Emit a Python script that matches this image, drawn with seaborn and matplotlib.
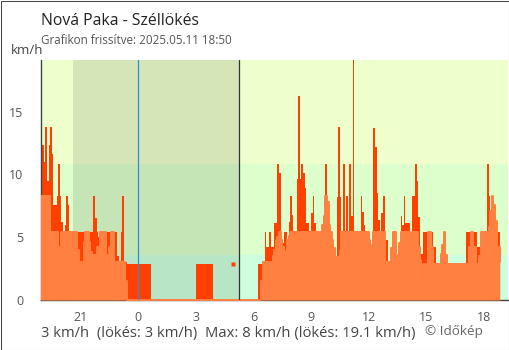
import numpy as np
import pandas as pd
import matplotlib
matplotlib.use("Agg")
import matplotlib.pyplot as plt
import seaborn as sns
from matplotlib.patches import Rectangle

# 5-minute samples, starting at 18:50 on the previous evening (one row = one hour)
start_hour = -5 - 10 / 60
step_minutes = 5
nan = np.nan

gust_kmh = [
    13.8, 13.8, 12.3, 11.0, 13.8, 9.5, 12.3, 13.8, 11.6, 7.6, 7.6, 8.3,
    10.8, 8.3, 6.2, 5.4, 6.0, 8.3, 7.6, 5.4, 5.4, 5.4, 5.4, 5.4,
    5.4, 5.4, 5.4, 5.4, 4.6, 5.4, 5.4, 5.4, 5.4, 5.4, 8.3, 6.5,
    5.4, 5.0, 5.4, 5.4, 5.4, 5.4, 5.4, 5.4, 5.4, 5.4, 5.4, 5.4,
    5.4, 3.5, 3.0, 5.4, 8.3, 3.0, 3.0, 2.9, 2.9, 2.9, 2.9, 2.9,
    2.9, 2.9, 2.9, 2.9, 2.9, 2.9, 2.9, 2.9, 2.9, 2.9, 2.9, nan,
    nan, nan, nan, nan, nan, nan, nan, nan, nan, nan, nan, nan,
    nan, nan, nan, nan, nan, nan, nan, nan, nan, nan, nan, nan,
    nan, nan, 2.9, 2.9, 2.9, 2.9, 2.9, 2.9, 2.9, 2.9, 2.9, 2.9,
    2.9, 2.9, nan, nan, nan, nan, nan, nan, nan, nan, nan, nan,
    nan, 2.9, nan, nan, nan, nan, nan, nan, nan, nan, nan, nan,
    nan, nan, nan, nan, nan, 2.9, 2.9, 2.9, 3.0, 5.4, 4.2, 4.2,
    5.4, 4.2, 4.2, 6.1, 6.1, 10.8, 10.1, 5.4, 4.5, 5.4, 5.4, 4.8,
    6.2, 8.3, 6.8, 5.4, 5.4, 9.6, 16.2, 9.6, 10.8, 10.1, 8.9, 6.1,
    6.1, 5.4, 6.9, 8.3, 6.1, 5.4, 5.4, 5.4, 5.4, 6.0, 6.7, 10.8,
    7.8, 6.0, 5.4, 4.8, 4.1, 3.4, 8.2, 13.8, 8.2, 5.4, 10.8, 5.4,
    8.3, 5.4, 10.8, 6.7, 19.1, 5.4, 5.4, 5.4, 5.4, 8.3, 7.0, 6.0,
    5.4, 5.4, 4.8, 3.4, 4.4, 13.7, 12.2, 8.5, 6.4, 5.4, 6.9, 8.3,
    4.8, 4.8, 3.0, 3.0, 4.1, 5.4, 5.4, 3.6, 3.5, 4.5, 6.7, 6.0,
    8.3, 6.1, 6.1, 6.1, 5.4, 8.3, 8.3, 10.8, 9.5, 6.6, 4.2, 3.7,
    5.4, 5.4, 5.4, 5.4, 5.4, 5.4, 4.2, 4.2, 2.9, 2.9, 2.9, 3.7,
    4.4, 5.4, 3.6, 2.9, 2.9, 2.9, 2.9, 2.9, 2.9, 2.9, 2.9, 2.9,
    2.9, 2.9, 2.9, 5.4, 5.4, 5.4, 5.4, 5.4, 5.4, 5.4, 4.2, 4.2,
    5.4, 5.4, 5.4, 5.4, 10.8, 8.3, 7.1, 8.3, 7.6, 6.3, 5.4, 5.4,
    3.0,
]

wind_kmh = [
    8.3, 8.3, 8.3, 8.3, 8.3, 8.3, 8.3, 5.4, 5.4, 5.4, 5.4, 5.4,
    4.2, 4.2, 5.4, 5.4, 5.4, 5.4, 5.4, 5.4, 5.4, 5.4, 5.4, 5.4,
    4.0, 3.0, 3.0, 3.0, 4.6, 5.4, 5.4, 4.6, 3.8, 3.2, 3.6, 3.6,
    4.2, 4.2, 5.4, 5.4, 5.4, 5.4, 3.6, 3.0, 4.2, 5.4, 5.4, 3.0,
    3.0, 3.0, 3.0, 3.0, 3.0, 3.0, 1.5, 0, 0, 0, 0, 0,
    0, 0, 0, 0, 0, 0, 0, 0, 0, 0, 0, 0,
    0, 0, 0, 0, 0, 0, 0, 0, 0, 0, 0, 0,
    0, 0, 0, 0, 0, 0, 0, 0, 0, 0, 0, 0,
    0, 0, 0, 0, 0, 0, 0, 0, 0, 0, 0, 0,
    0, 0, 0, 0, 0, 0, 0, 0, 0, 0, 0, 0,
    0, 0, 0, 0, 0, 0, 0, 0, 0, 0, 0, 0,
    0, 0, 0, 0, 0, 0, 0, 1.5, 3.0, 3.0, 3.0, 3.0,
    3.0, 3.0, 3.5, 4.0, 4.8, 5.0, 5.4, 4.8, 4.2, 3.9, 3.2, 4.8,
    5.1, 5.4, 3.4, 5.4, 5.4, 3.3, 5.4, 5.4, 5.4, 5.4, 5.4, 5.4,
    5.4, 5.4, 5.4, 5.4, 5.4, 5.4, 5.4, 5.4, 5.4, 6.0, 6.7, 8.3,
    7.8, 6.0, 5.4, 4.8, 4.1, 3.4, 3.4, 3.4, 4.0, 5.4, 5.4, 3.9,
    5.4, 5.4, 5.4, 5.4, 5.4, 5.4, 5.4, 5.4, 5.4, 5.4, 5.4, 5.4,
    5.4, 5.4, 4.8, 3.4, 4.4, 5.4, 5.4, 5.4, 5.4, 5.4, 5.4, 5.4,
    3.0, 3.0, 3.0, 3.0, 4.1, 5.4, 5.4, 3.6, 3.5, 4.5, 5.4, 5.4,
    3.4, 5.4, 5.4, 5.4, 4.8, 5.4, 5.4, 5.4, 5.4, 4.2, 3.2, 1.5,
    2.9, 2.9, 2.9, 5.4, 5.4, 4.2, 2.9, 2.9, 2.9, 2.9, 2.9, 3.7,
    4.4, 5.4, 3.6, 2.9, 2.9, 2.9, 2.9, 2.9, 2.9, 2.9, 2.9, 2.9,
    2.9, 2.9, 2.9, 2.9, 2.9, 4.2, 5.4, 4.2, 4.2, 2.9, 2.9, 3.5,
    5.4, 5.4, 5.4, 5.4, 5.4, 5.8, 7.1, 8.3, 7.6, 6.3, 4.2, 4.2,
    3.0,
]

tick_hours = [-3, 0, 3, 6, 9, 12, 15, 18]
tick_labels = ["21", "0", "3", "6", "9", "12", "15", "18"]
y_ticks = [0, 5, 10, 15]

sunset_hour = -3.4
sunrise_hour = 5.27
band_edges = [0, 3.6, 10.8]
band_colors = ["#ccffdd", "#ddffcc", "#eeffcc"]

title = "Nová Paka - Széllökés"
subtitle = "Grafikon frissítve: 2025.05.11 18:50"
unit_label = "km/h"
footer = "3 km/h  (lökés: 3 km/h)  Max: 8 km/h (lökés: 19.1 km/h)"
credit = "© Időkép"

GUST_COLOR = "#ff4000"
WIND_COLOR = "#ff8040"
AXIS_COLOR = "#444444"

hours = start_hour + np.arange(len(gust_kmh)) * step_minutes / 60
df = pd.DataFrame({"hour": hours, "gust": gust_kmh, "wind": wind_kmh})

sns.set_style("white")
plt.rcParams["font.family"] = ["Open Sans", "DejaVu Sans"]

W, H = 510, 350
fig = plt.figure(figsize=(W / 100, H / 100), dpi=100)
left, right, top, bottom = 40.7, 508, 60, 300
ax = fig.add_axes([left / W, 1 - bottom / H, (right - left) / W, (bottom - top) / H])

x_min, x_max = -5.08, 19.26
y_max = np.nanmax(df["gust"])
ax.set_xlim(x_min, x_max)
ax.set_ylim(0, y_max)

# wind-strength background bands and the night shading
band_tops = band_edges[1:] + [y_max]
for lo, hi, col in zip(band_edges, band_tops, band_colors):
    ax.axhspan(lo, hi, color=col, lw=0, zorder=0)
ax.axvspan(sunset_hour, sunrise_hour, color="black", alpha=0.1, lw=0, zorder=0.5)

# gusts: filled steps, broken where no measurement exists
ax.fill_between(df["hour"], df["gust"], step="post", color=GUST_COLOR, lw=0,
                zorder=2, antialiased=False)
g = df["gust"].to_numpy()
prev_nan = np.r_[True, np.isnan(g[:-1])]
next_nan = np.r_[np.isnan(g[1:]), True]
lone = ~np.isnan(g) & prev_nan & next_nan
ax.plot(df["hour"][lone], df["gust"][lone], ls="none", marker="s", ms=2.2,
        mec="none", color=GUST_COLOR, zorder=2.3)

# mean wind on top
ax.fill_between(df["hour"], df["wind"], step="post", color=WIND_COLOR, lw=0,
                zorder=3, antialiased=False)
sns.lineplot(data=df, x="hour", y="wind", drawstyle="steps-post", color=WIND_COLOR,
             lw=1.4, ax=ax, zorder=4)
clip = Rectangle((0, -0.03), 1, 1.03, transform=ax.transAxes)
ax.lines[-1].set_clip_path(clip)

# midnight and sunrise markers
ax.axvline(0, color="#2a8fd8", lw=0.9, zorder=5)
ax.axvline(sunrise_hour, color="#333333", lw=0.9, zorder=5)

# axes styling
for side in ["top", "right"]:
    ax.spines[side].set_visible(False)
for side in ["left", "bottom"]:
    ax.spines[side].set_color(AXIS_COLOR)
    ax.spines[side].set_linewidth(1.0)
ax.set_xticks(tick_hours)
ax.set_xticklabels(tick_labels)
ax.set_xticks([x_min], minor=True)
ax.set_yticks(y_ticks)
ax.set_yticklabels([str(v) for v in y_ticks])
ax.tick_params(axis="x", which="both", direction="out", length=4, width=1,
               color=AXIS_COLOR, labelcolor="#555555", labelsize=9, pad=4)
ax.tick_params(axis="y", direction="inout", length=10, width=1,
               color=AXIS_COLOR, labelcolor="#555555", labelsize=9, pad=7.5)
ax.set_xlabel("")
ax.set_ylabel("")

# texts
def px(x, y):
    return x / W, 1 - y / H

fig.text(*px(40.7, 25), title, fontsize=11.3, color="#222222", va="baseline")
fig.text(*px(40.7, 44.5), subtitle, fontsize=8.4, color="#555555", va="baseline")
fig.text(*px(11, 54.5), unit_label, fontsize=9.5, color="#444444", va="baseline")
fig.text(*px(40.7, 337.5), footer, fontsize=10.6, color="#444444", va="baseline")
fig.text(*px(425, 335.5), credit, fontsize=9.7, color="#666666", va="baseline")

# outer frame
fig.add_artist(Rectangle((0.5 / W, 0.5 / H), (W - 1) / W, (H - 1) / H,
                         transform=fig.transFigure, fill=False,
                         ec=AXIS_COLOR, lw=0.75))

fig.savefig("out.png", dpi=100)
